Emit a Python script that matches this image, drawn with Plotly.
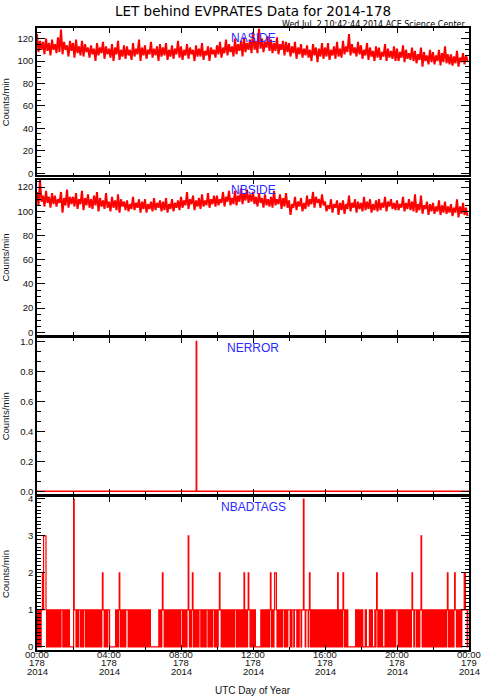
import plotly.graph_objects as go

# LET behind EVPRATES, day 2014-178
# naside / nbside: one row per hour, 5-minute samples (counts/min)
naside = [
    [124, 108, 118, 110, 117, 106, 120, 109, 116, 105, 119, 110],
    [115, 107, 121, 108, 128, 106, 117, 110, 114, 104, 118, 109],
    [116, 103, 119, 107, 113, 105, 118, 104, 115, 108, 112, 103],
    [114, 106, 111, 100, 116, 105, 112, 107, 117, 102, 113, 106],
    [111, 103, 115, 100, 112, 106, 118, 101, 110, 104, 114, 102],
    [113, 105, 110, 101, 116, 104, 111, 106, 119, 100, 112, 105],
    [114, 102, 110, 106, 117, 103, 111, 105, 113, 100, 115, 104],
    [112, 105, 116, 101, 110, 104, 114, 102, 111, 106, 118, 103],
    [113, 101, 110, 105, 115, 102, 112, 106, 110, 100, 114, 104],
    [111, 104, 116, 101, 109, 105, 113, 100, 112, 106, 110, 103],
    [114, 106, 117, 103, 112, 107, 119, 105, 115, 108, 113, 104],
    [120, 106, 115, 109, 118, 104, 121, 108, 116, 110, 119, 107],
    [126, 110, 118, 107, 129, 111, 120, 108, 117, 112, 122, 109],
    [119, 107, 116, 109, 121, 106, 115, 110, 118, 105, 117, 108],
    [116, 104, 113, 107, 117, 102, 112, 106, 115, 103, 111, 105],
    [114, 103, 110, 100, 115, 105, 112, 99, 111, 104, 116, 102],
    [112, 104, 116, 101, 110, 105, 113, 102, 117, 104, 111, 103],
    [118, 106, 113, 108, 124, 105, 115, 107, 112, 104, 117, 106],
    [114, 102, 110, 105, 116, 101, 112, 104, 109, 100, 113, 103],
    [112, 101, 108, 104, 115, 100, 111, 103, 109, 102, 113, 100],
    [111, 100, 108, 103, 114, 99, 110, 102, 107, 101, 112, 100],
    [109, 98, 106, 101, 112, 95, 108, 100, 105, 97, 110, 99],
    [108, 97, 105, 100, 110, 96, 107, 99, 113, 98, 106, 97],
    [106, 96, 104, 98, 109, 95, 103, 99, 107, 97, 105, 100],
]
nbside = [
    [116, 105, 126, 108, 113, 104, 117, 107, 112, 103, 115, 106],
    [113, 104, 110, 107, 116, 99, 111, 105, 118, 103, 112, 106],
    [112, 104, 115, 102, 110, 106, 117, 101, 111, 105, 114, 103],
    [110, 102, 113, 105, 116, 100, 111, 104, 109, 102, 115, 103],
    [108, 100, 112, 103, 109, 101, 114, 99, 110, 104, 108, 101],
    [109, 100, 106, 102, 112, 101, 107, 103, 110, 99, 108, 102],
    [110, 99, 106, 102, 108, 100, 111, 101, 107, 103, 109, 100],
    [108, 101, 111, 99, 106, 102, 110, 100, 107, 103, 109, 101],
    [112, 103, 109, 105, 116, 102, 110, 106, 113, 101, 109, 104],
    [111, 102, 114, 104, 109, 105, 115, 103, 110, 106, 113, 104],
    [113, 105, 110, 107, 116, 104, 112, 108, 117, 105, 111, 106],
    [117, 105, 113, 108, 119, 106, 115, 109, 118, 107, 114, 108],
    [116, 106, 112, 104, 115, 107, 111, 103, 114, 105, 110, 104],
    [112, 103, 117, 105, 110, 106, 114, 102, 111, 104, 115, 103],
    [109, 97, 106, 103, 112, 101, 108, 104, 111, 100, 107, 102],
    [113, 104, 110, 106, 116, 103, 112, 107, 110, 103, 114, 105],
    [108, 100, 105, 102, 110, 99, 106, 103, 109, 97, 107, 101],
    [109, 98, 106, 102, 113, 100, 107, 103, 110, 99, 108, 102],
    [107, 100, 112, 101, 108, 102, 110, 99, 106, 101, 109, 100],
    [110, 101, 107, 103, 112, 100, 108, 104, 110, 102, 107, 101],
    [109, 101, 106, 103, 112, 100, 107, 102, 110, 101, 108, 100],
    [114, 99, 106, 101, 113, 98, 105, 102, 108, 97, 106, 100],
    [107, 98, 104, 100, 109, 97, 105, 99, 108, 98, 104, 99],
    [106, 96, 103, 99, 110, 95, 104, 98, 107, 97, 103, 96],
]
# nerror is zero all day except these minutes
nerror_minutes = [531]
# nbadtags: one string per hour, 2-minute samples, one digit per sample
nbadtags = [
    "101101011213333101101011011010",
    "110101101011101101011011000000",
    "041110110111011010111011011010",
    "101101011010110110121101011011",
    "100000000001011012101101101011",
    "110110101101011011010110101101",
    "101101101000000000000001011012",
    "110101101101011010110110101101",
    "110101101011310110121011010110",
    "111011010110111010110101110110",
    "101121101101011010110110101101",
    "110101101011010210110121101101",
    "101100000000010110101101011012",
    "101101222101101011011101011011",
    "110101110111101101110111411011",
    "110121011010110110101101011010",
    "110101101101011011010210110101",
    "210110110000000000000101100101",
    "001000011000001001100001012101",
    "001001000010110110101101101011",
    "110101101101011011010110121101",
    "110110101131011010010110100101",
    "101101101011010110101101210110",
    "110101211011010110111122111011",
]

tick_hours = [0, 4, 8, 12, 16, 20, 24]
tick_times = ["00:00", "04:00", "08:00", "12:00", "16:00", "20:00", "00:00"]
tick_days = ["178", "178", "178", "178", "178", "178", "179"]
tick_years = ["2014"] * 7
panel_names = ["NASIDE", "NBSIDE", "NERROR", "NBADTAGS"]


def per_hour(rows, step_min):
    t, v = [], []
    for h, row in enumerate(rows):
        for j, val in enumerate(row):
            t.append(h + j * step_min / 60)
            v.append(int(val))
    return t, v


ta, va = per_hour(naside, 5)
tb, vb = per_hour(nbside, 5)
tt, vt = per_hour(nbadtags, 2)
te = [m / 60 for m in range(1440)]
ve = [1 if m in nerror_minutes else 0 for m in range(1440)]

H = 700
def py(px):
    return 1 - px / H

# panel frames in pixels (top, bottom)
frames = [(24.7, 173), (177.3, 334), (337.3, 494.7), (498.3, 652.3)]
yranges = [[-1.8, 129], [-1.9, 126.3], [-0.016, 1.024], [-0.08, 4.045]]
ymajor = [20, 20, 0.2, 1]
yminor = [5, 5, 0.2 / 3, 0.1]
label_y = [34, 188, 347.7, 508]

fig = go.Figure()
series = [(ta, va, "linear", 2.0), (tb, vb, "linear", 2.0),
          (te, ve, "hv", 1.5), (tt, vt, "hv", 1.2)]
for i, (x, y, shape, w) in enumerate(series):
    n = "" if i == 0 else str(i + 1)
    fig.add_trace(go.Scatter(x=x, y=y, mode="lines", xaxis="x" + n, yaxis="y" + n,
                             line=dict(color="#ff0000", width=w, shape=shape),
                             showlegend=False, hoverinfo="skip"))

tickfont = dict(family="Liberation Sans", size=9.5, color="#111")
layout = dict(width=481, height=700, margin=dict(l=37, r=12, t=0, b=0),
              plot_bgcolor="white", paper_bgcolor="white", showlegend=False)
annotations = []
for i in range(4):
    n = "" if i == 0 else str(i + 1)
    top, bot = frames[i]
    layout["xaxis" + n] = dict(
        domain=[0, 1], range=[0, 24], anchor="y" + n, tickvals=tick_hours,
        showticklabels=False, ticks="inside", ticklen=5, tickwidth=1, tickcolor="black",
        minor=dict(dtick=2, ticks="inside", ticklen=3, tickcolor="black"),
        showline=True, linecolor="black", linewidth=1.5, mirror="allticks",
        showgrid=False, zeroline=False)
    layout["yaxis" + n] = dict(
        domain=[py(bot), py(top)], range=yranges[i], anchor="x" + n,
        dtick=ymajor[i], tick0=0, tickformat=".1f" if i == 2 else "d",
        ticks="inside", ticklen=8, tickwidth=1, tickcolor="black", tickfont=tickfont,
        minor=dict(dtick=yminor[i], tick0=0, ticks="inside", ticklen=4, tickcolor="black"),
        showline=True, linecolor="black", linewidth=1.5, mirror="allticks",
        showgrid=False, zeroline=False)
    annotations.append(dict(text=panel_names[i], xref="paper", yref="paper", x=0.5,
                            y=py(label_y[i]), showarrow=False, yanchor="middle",
                            font=dict(family="Liberation Sans", size=12, color="#2a2aff")))
    annotations.append(dict(text="Counts/min", xref="paper", yref="paper",
                            x=(5.5 - 37) / 432, y=py((top + bot) / 2), textangle=-90,
                            showarrow=False, xanchor="center", yanchor="middle",
                            font=dict(family="Liberation Sans", size=9.5, color="#111")))

for h, a, b, c in zip(tick_hours, tick_times, tick_days, tick_years):
    for txt, ypx in ((a, 657), (b, 665.5), (c, 674)):
        annotations.append(dict(text=txt, xref="x4", yref="paper", x=h, y=py(ypx),
                                showarrow=False, xanchor="center", yanchor="middle",
                                font=tickfont))

annotations.append(dict(text="UTC Day of Year", xref="paper", yref="paper", x=0.5,
                        y=py(693), showarrow=False, yanchor="middle",
                        font=dict(family="Liberation Sans", size=10, color="#111")))
annotations.append(dict(text="LET behind EVPRATES Data for 2014-178", xref="paper",
                        yref="paper", x=0.5, y=py(7), showarrow=False, yanchor="middle",
                        font=dict(family="DejaVu Sans", size=13.5, color="black")))
annotations.append(dict(text="Wed Jul\u00a0 2 10:42:44 2014 ACE Science Center",
                        xref="paper", yref="paper", x=(466.7 - 37) / 432, y=py(20.3),
                        showarrow=False, xanchor="right", yanchor="middle",
                        font=dict(family="DejaVu Sans", size=8, color="black")))
layout["annotations"] = annotations

fig.update_layout(**layout)
fig.write_html("out.html", config={"displayModeBar": False},
               post_script="document.body.style.margin='0';document.body.style.overflow='hidden';")
